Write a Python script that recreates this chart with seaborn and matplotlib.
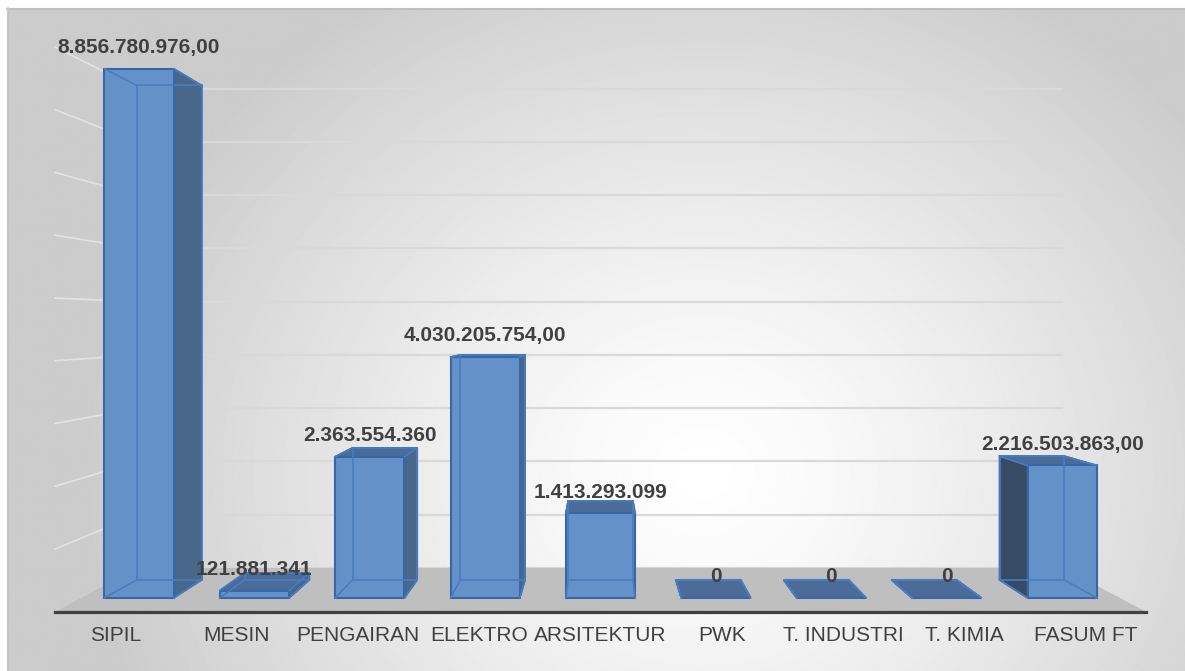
import numpy as np
import pandas as pd
import matplotlib
matplotlib.use("Agg")
import matplotlib.pyplot as plt
import seaborn as sns
from matplotlib.patches import Polygon, Rectangle

# ---------------- data ----------------
categories = ["SIPIL", "MESIN", "PENGAIRAN", "ELEKTRO", "ARSITEKTUR",
              "PWK", "T. INDUSTRI", "T. KIMIA", "FASUM FT"]
values = [8856780976.00, 121881341, 2363554360, 4030205754.00, 1413293099,
          0, 0, 0, 2216503863.00]
value_labels = ["8.856.780.976,00", "121.881.341", "2.363.554.360",
                "4.030.205.754,00", "1.413.293.099", "0", "0", "0",
                "2.216.503.863,00"]
grid_values = [0, 1e9, 2e9, 3e9, 4e9, 5e9, 6e9, 7e9, 8e9, 9e9]

# ---------------- style ----------------
sns.set_theme(style="white")
plt.rcParams["font.family"] = ["Liberation Sans", "DejaVu Sans"]

W, H = 1185, 671
fig = plt.figure(figsize=(W / 100, H / 100), dpi=100)

# background with radial gradient
bg = fig.add_axes([0, 0, 1, 1])
bg.set_xlim(0, W)
bg.set_ylim(H, 0)
bg.axis("off")
yy, xx = np.mgrid[0:H, 0:W]
d = np.sqrt(((xx - 700) / 620.0) ** 2 + ((yy - 470) / 560.0) ** 2)
shade = 1 - 0.2 * np.clip(d, 0, 1) ** 1.3
bg.imshow(shade, cmap="gray", vmin=0, vmax=1, extent=(7, W, H, 8),
          aspect="auto", interpolation="bilinear", zorder=0)
bg.plot([7, W], [8.5, 8.5], color="#bfbfbf", lw=1.5, zorder=1)
bg.plot([7.5, 7.5], [8, H], color="#c4c4c4", lw=1.5, zorder=1)

# main axes: data plane = front edge of the floor
ax = fig.add_axes([0, 0, 1, 1])
ax.patch.set_alpha(0)

df = pd.DataFrame({"cat": categories, "val": values})
sns.barplot(data=df, x="cat", y="val", width=0.6, ax=ax, color="#6491c8",
            saturation=1, errorbar=None, edgecolor="#3867a6", linewidth=1.5)

# calibration of the front floor plane (pixels)
PX_X0, PX_DX, PX_Y0, PX_PER_UNIT = 115.4, 121.3, 612.0, 62.8e-9
ax.set_xlim((0 - PX_X0) / PX_DX, (W - PX_X0) / PX_DX)
ax.set_ylim((PX_Y0 - H) / PX_PER_UNIT, PX_Y0 / PX_PER_UNIT)
VPX = (600 - PX_X0) / PX_DX
VPY = (PX_Y0 - 322.5) / PX_PER_UNIT
T_FRONT, T_BACK, T_WALL = 0.0486, 0.111, 0.152


def proj(x, v, t):
    return (x + t * (VPX - x), v + t * (VPY - v))


n = len(categories)
xl, xr = -0.5, n - 0.5

# floor
floor = Polygon([proj(xl, 0, 0), proj(xr, 0, 0), proj(xr, 0, T_WALL),
                 proj(xl, 0, T_WALL)], closed=True, facecolor="#bfbfbf",
                edgecolor="none", zorder=1)
ax.add_patch(floor)

# wall gridlines
for g in grid_values:
    p1, p2 = proj(xl, g, T_WALL), proj(xr, g, T_WALL)
    ax.plot([p1[0], p2[0]], [p1[1], p2[1]], color="#d9d9d9", lw=1.6,
            zorder=0.6, solid_capstyle="butt")
    if g > 0:
        q1 = proj(xl, g, 0)
        ax.plot([q1[0], p1[0]], [q1[1], p1[1]], color="#ffffff", lw=1.2,
                alpha=0.45, zorder=0.6)

# bars in 3D
edge_in = "#4a7cc0"
for i, p in enumerate(list(ax.patches)[:n]):
    if not isinstance(p, Rectangle) or p is floor:
        continue
    x0, w, v = p.get_x(), p.get_width(), p.get_height()
    FL0, FR0 = proj(x0, 0, T_FRONT), proj(x0 + w, 0, T_FRONT)
    FL1, FR1 = proj(x0, v, T_FRONT), proj(x0 + w, v, T_FRONT)
    BL0, BR0 = proj(x0, 0, T_BACK), proj(x0 + w, 0, T_BACK)
    BL1, BR1 = proj(x0, v, T_BACK), proj(x0 + w, v, T_BACK)

    cx = x0 + w / 2
    if cx < VPX:
        side = [FR0, FR1, BR1, BR0]
        side_col = "#486789"
    else:
        side = [FL0, FL1, BL1, BL0]
        side_col = "#384b65"
    ax.add_patch(Polygon(side, closed=True, facecolor=side_col,
                         edgecolor="#3867a6", lw=1.3, zorder=3))
    if v < VPY:
        ax.add_patch(Polygon([FL1, FR1, BR1, BL1], closed=True,
                             facecolor="#4b6c98", edgecolor="#3867a6",
                             lw=1.3, zorder=3))

    # front face = the seaborn bar, moved to its depth
    p.set_xy(FL0)
    p.set_width(FR0[0] - FL0[0])
    p.set_height(FL1[1] - FL0[1])
    p.set_zorder(4)

    # hidden edges seen through the translucent bar
    for a, b in [(BL0, BR0), (BL0, BL1), (BL1, BR1), (BR0, BR1),
                 (FL0, BL0), (FR0, BR0), (FL1, BL1), (FR1, BR1)]:
        ax.plot([a[0], b[0]], [a[1], b[1]], color=edge_in, lw=1.2, zorder=5)

    ax.annotate(value_labels[i], xy=((FL1[0] + FR1[0]) / 2, FL1[1]),
                xytext=(0, 11.5), textcoords="offset points", ha="center",
                va="baseline", fontsize=15, fontweight="bold",
                color="#404040", zorder=10)

# axis at the front edge of the floor
for s in ["top", "right", "left"]:
    ax.spines[s].set_visible(False)
ax.spines["bottom"].set_position(("data", 0))
ax.spines["bottom"].set_bounds(xl, xr)
ax.spines["bottom"].set_color("#404040")
ax.spines["bottom"].set_linewidth(2.3)
ax.spines["bottom"].set_zorder(6)
ax.set_yticks([])
ax.set_xticks(range(n))
ax.set_xticklabels(categories)
ax.tick_params(axis="x", length=0, pad=10, labelsize=15, labelcolor="#404040")
ax.set_xlabel("")
ax.set_ylabel("")

fig.savefig("out.png", dpi=100)
